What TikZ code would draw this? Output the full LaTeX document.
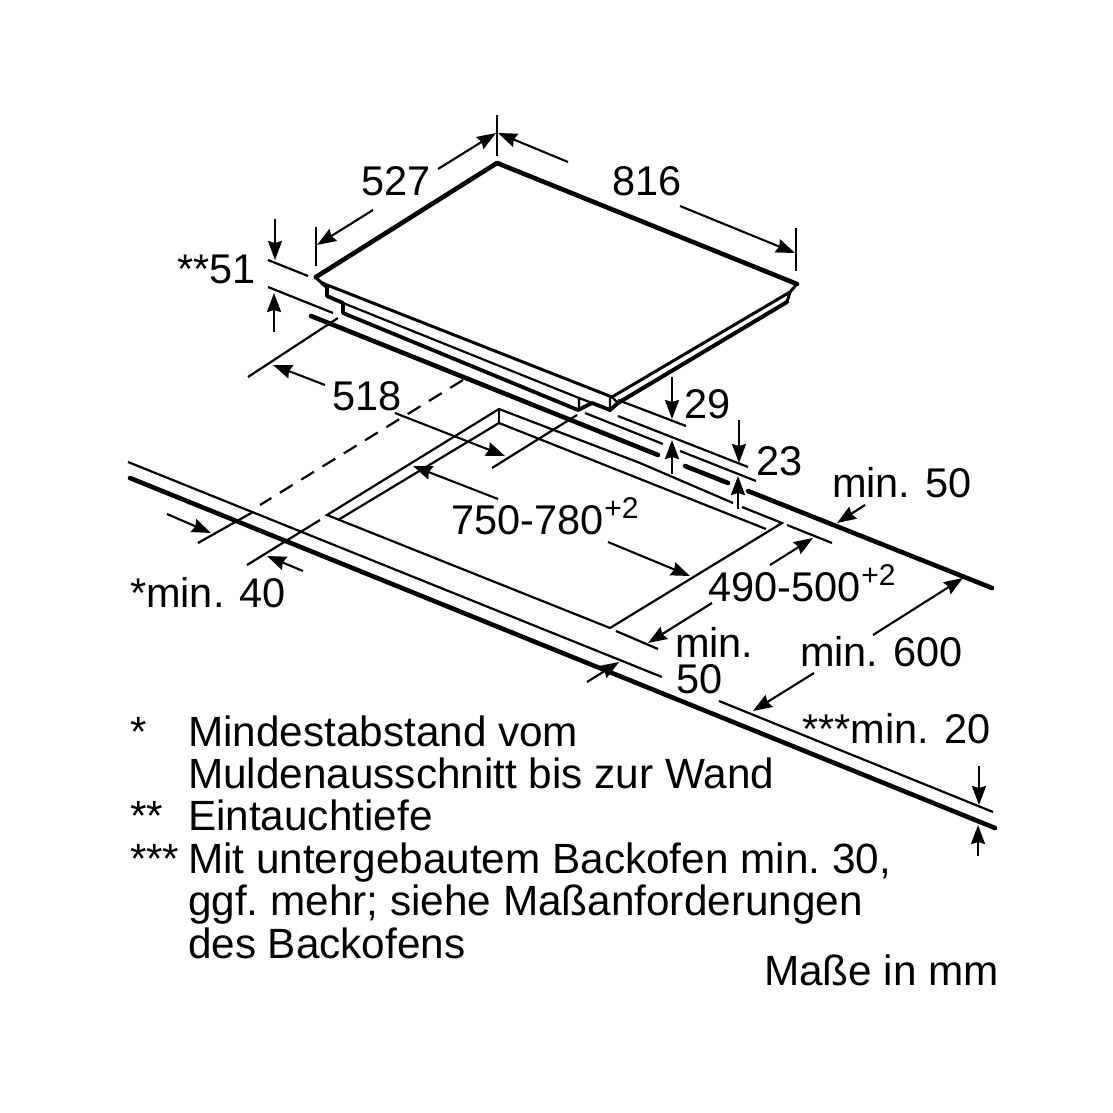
\documentclass[tikz,border=0pt]{standalone}
\usepackage{fontspec}
\setmainfont{Liberation Sans}
\usetikzlibrary{arrows.meta}
\newcommand{\supertwo}{\raisebox{16pt}{\fontsize{30}{31}\selectfont +2}}
\tikzset{
 thin line/.style={line width=2.2pt,line cap=butt,black},
 thick line/.style={line width=4.6pt,line cap=round,line join=round,black},
 mid line/.style={line width=3pt,line cap=round,line join=round,black},
 dimarrow/.style={line width=2.1pt,black,-{Stealth[length=19pt,width=14pt,inset=2pt]}},
 label/.style={anchor=base west,inner sep=0pt,outer sep=0pt,font=\fontsize{41.5}{42.5}\selectfont,black},
 note/.style={anchor=base west,inner sep=0pt,outer sep=0pt,font=\fontsize{42.3}{43}\selectfont\frenchspacing,black}
}
\begin{document}
\begin{tikzpicture}[x=1pt,y=-1pt]
\useasboundingbox[fill=white] (0,0) rectangle (1113,1113);
% hob top
\draw[thick line] (316,277) -- (497,163) -- (797,284);
\draw[mid line] (315,277) -- (322,283) -- (612,397) -- (790,292) -- (797,284);
\draw[mid line] (790,292) -- (787,302);
\draw[thick line,line width=4pt] (787,302) -- (618,403) -- (610,410);
\draw[thin line] (610,397) -- (610,410) (612,397)--(618,403);
% steps
\draw[mid line,line width=3.8pt] (322,283) -- (327,287) -- (327,296) -- (343,303) -- (343,313) -- (578,410);
\draw[thin line] (343,303) -- (579,398) -- (579,410);
\draw[thin line] (579,398) -- (592,403);
\draw[mid line,line width=3.8pt] (578,410) -- (592,403) -- (610,410);
\draw[thick line] (311,316) -- (658,455);
\draw[thick line] (685,466) -- (728,483);
\draw[thick line] (748,491) -- (992,588);
% cut-out
\draw[thin line,line join=miter] (640,463) -- (499,409) -- (327,515) -- (610,628) -- (782,523) -- (742,507);
\draw[thin line] (640,463) -- (733,503);
\draw[thin line,line join=miter] (499,409) -- (499,423);
\draw[thin line,line join=miter] (338,520) -- (499,423) -- (766,529);
% worktop
\draw[thin line] (128,462) -- (662,677);
\draw[thin line] (719,701) -- (993,812);
\draw[thick line] (130,478) -- (995,828);
% centre lines / extension lines
\draw[thin line,dash pattern=on 15pt off 10pt] (463,380) -- (260,505);
\draw[thin line] (253,512) -- (198,543);
\draw[thin line] (320,520) -- (247,565);
\draw[thin line] (338,318) -- (248,377);
\draw[thin line] (577,415) -- (492,468);
\draw[thin line] (268,260) -- (308,276);
\draw[thin line] (268,287) -- (333,313);
\draw[thin line] (316,227) -- (316,266);
\draw[thin line] (497,115) -- (497,156);
\draw[thin line] (796,228) -- (796,271);
\draw[thin line] (618,400) -- (686,426);
\draw[thin line] (618,416) -- (748,467);
\draw[thin line] (585,413) -- (663,444);
\draw[thin line] (680,451) -- (756,481);
\draw[thin line] (787,525) -- (832,543);
\draw[thin line] (616,631) -- (658,649);
% dimension arrows
\draw[dimarrow] (373,210) -- (317,245);
\draw[dimarrow] (438,169) -- (496,133);
\draw[dimarrow] (568,162) -- (498,133);
\draw[dimarrow] (680,206) -- (795,253);
\draw[dimarrow] (275,219) -- (275,260);
\draw[dimarrow] (274,332) -- (274,293);
\draw[dimarrow] (325,385) -- (273,365);
\draw[dimarrow] (395,413) -- (505,456);
\draw[dimarrow] (672,377) -- (672,419);
\draw[dimarrow] (672,474) -- (672,440);
\draw[dimarrow] (739,420) -- (739,463);
\draw[dimarrow] (738,509) -- (738,476);
\draw[dimarrow] (865,505) -- (837,523);
\draw[dimarrow] (498,499) -- (413,466);
\draw[dimarrow] (608,542) -- (690,576);
\draw[dimarrow] (770,565) -- (813,538);
\draw[dimarrow] (712,603) -- (648,643);
\draw[dimarrow] (587,682) -- (619,662);
\draw[dimarrow] (873,635) -- (963,578);
\draw[dimarrow] (814,673) -- (753,711);
\draw[dimarrow] (979,766) -- (979,805);
\draw[dimarrow] (978,856) -- (978,825);
\draw[dimarrow] (167,514) -- (211,533);
\draw[dimarrow] (303,571) -- (267,556);
% labels
\node[label] (t527) at (361,195) {527};
\node[label] (t816) at (612,195) {816};
\node[label] (t51) at (177,283) {**51};
\node[label] (t518) at (332,410) {518};
\node[label] (t29) at (684,418) {29};
\node[label] (t23) at (756,475) {23};
\node[label] (tm50) at (832,497) {min. 50};
\node[label] (t750) at (451,534) {750-780\kern1pt\supertwo};
\node[label] (t490) at (708,601) {490-500\kern1pt\supertwo};
\node[label] (tmin) at (675,657) {min.};
\node[label] (t50) at (676,693) {50};
\node[label] (t600) at (800,666) {min. 600};
\node[label] (t20) at (802,743) {***min. 20};
\node[label] (t40) at (130,607) {*min. 40};
% footnotes
\node[note] (s1) at (130,746) {*};
\node[note] (f1) at (188,746) {Mindestabstand vom};
\node[note] (f2) at (188,788) {Muldenausschnitt bis zur Wand};
\node[note] (s2) at (130,830) {**};
\node[note] (f3) at (188,830) {Eintauchtiefe};
\node[note] (s3) at (130,873) {***};
\node[note] (f4) at (188,873) {Mit untergebautem Backofen min. 30,};
\node[note] (f5) at (188,915) {ggf. mehr; siehe Maßanforderungen};
\node[note] (f6) at (188,958) {des Backofens};
\node[note] (f7) at (764,985) {Maße in mm};
\end{tikzpicture}
\end{document}
